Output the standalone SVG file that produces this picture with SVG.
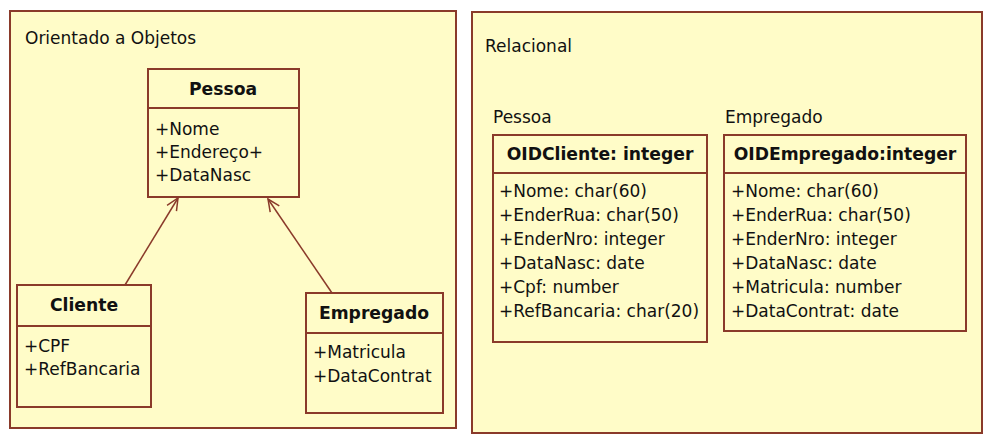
<svg xmlns="http://www.w3.org/2000/svg" width="1006" height="447" viewBox="0 0 1006 447">
<style>
.panel{fill:#FFFCC8;stroke:#8A3A2A;stroke-width:2}
.box{fill:#FFFCC8;stroke:#8A3A2A;stroke-width:2}
.div{stroke:#8A3A2A;stroke-width:2}
text{font-family:"DejaVu Sans",Verdana,sans-serif;font-size:17px;fill:#111}
.b{font-weight:bold;text-anchor:middle;font-size:17.2px}
.conn{stroke:#8A3A2A;stroke-width:1.5;fill:none}
</style>
<defs>
<marker id="open" viewBox="0 0 14 14" refX="13" refY="7" markerWidth="14" markerHeight="14" markerUnits="userSpaceOnUse" orient="auto">
<path d="M1,1.5 L13,7 L1,12.5" fill="none" stroke="#8A3A2A" stroke-width="1.5"/>
</marker>
</defs>
<rect width="1006" height="447" fill="#fff"/>
<g id="panel-oo">
<rect class="panel" x="10" y="11" width="446" height="417"/>
<text x="25" y="44">Orientado a Objetos</text>
</g>
<g id="panel-rel">
<rect class="panel" x="472" y="12" width="510" height="421"/>
<text x="485" y="52">Relacional</text>
</g>
<g id="pessoa">
<rect class="box" x="148" y="69" width="151" height="128"/>
<line class="div" x1="148" y1="108" x2="299" y2="108"/>
<text class="b" x="223" y="95">Pessoa</text>
<text x="155" y="135">+Nome</text>
<text x="155" y="158">+Endereço+</text>
<text x="155" y="181">+DataNasc</text>
</g>
<g id="cliente">
<rect class="box" x="17" y="285" width="134" height="122"/>
<line class="div" x1="17" y1="326" x2="151" y2="326"/>
<text class="b" x="84" y="311">Cliente</text>
<text x="24" y="352">+CPF</text>
<text x="24" y="375">+RefBancaria</text>
</g>
<g id="empregado">
<rect class="box" x="306" y="293" width="137" height="120"/>
<line class="div" x1="306" y1="333" x2="443" y2="333"/>
<text class="b" x="374" y="319">Empregado</text>
<text x="313" y="358">+Matricula</text>
<text x="313" y="382">+DataContrat</text>
</g>
<g id="connectors">
<line class="conn" x1="125" y1="285" x2="178" y2="198" marker-end="url(#open)"/>
<line class="conn" x1="332" y1="293" x2="268" y2="199" marker-end="url(#open)"/>
</g>
<g id="tab-pessoa">
<text x="493" y="123">Pessoa</text>
<rect class="box" x="493" y="135" width="214" height="207"/>
<line class="div" x1="493" y1="173" x2="707" y2="173"/>
<text class="b" x="600" y="160">OIDCliente: integer</text>
<text x="499" y="197">+Nome: char(60)</text>
<text x="499" y="221">+EnderRua: char(50)</text>
<text x="499" y="245">+EnderNro: integer</text>
<text x="499" y="269">+DataNasc: date</text>
<text x="499" y="293">+Cpf: number</text>
<text x="499" y="317">+RefBancaria: char(20)</text>
</g>
<g id="tab-empregado">
<text x="725" y="123">Empregado</text>
<rect class="box" x="724" y="135" width="242" height="196"/>
<line class="div" x1="724" y1="173" x2="966" y2="173"/>
<text class="b" x="845" y="160">OIDEmpregado:integer</text>
<text x="731" y="197">+Nome: char(60)</text>
<text x="731" y="221">+EnderRua: char(50)</text>
<text x="731" y="245">+EnderNro: integer</text>
<text x="731" y="269">+DataNasc: date</text>
<text x="731" y="293">+Matricula: number</text>
<text x="731" y="317">+DataContrat: date</text>
</g>
</svg>
